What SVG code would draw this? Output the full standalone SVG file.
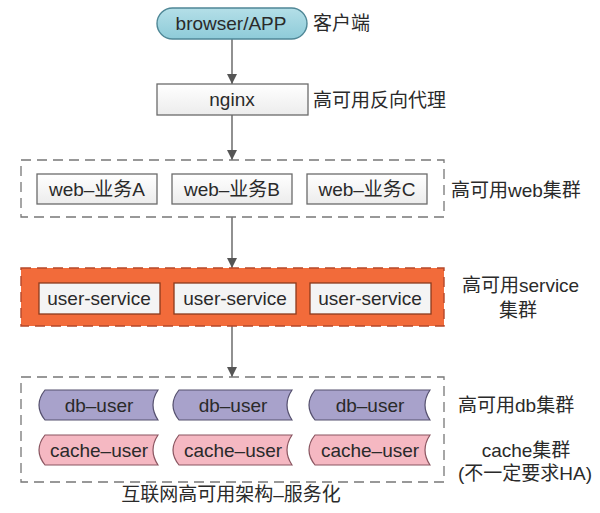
<svg xmlns="http://www.w3.org/2000/svg" width="600" height="513" viewBox="0 0 600 513">
<defs>
<style>
.t{font-family:"Liberation Sans","Noto Sans CJK SC",Arial,sans-serif;font-size:19px;fill:#2a2a2a;}
.c{text-anchor:middle;}
.box{fill:url(#g);stroke:#6b6b6b;stroke-width:1.3;}
.grp{fill:none;stroke:#777;stroke-width:1.3;stroke-dasharray:10 6;}
.svc{fill:#f4f4f4;stroke:#8a3a1c;stroke-width:1.3;}
.db{fill:#a8a2cb;stroke:#55506e;stroke-width:1.2;}
.cache{fill:#f5b8c2;stroke:#8a5560;stroke-width:1.2;}
.edge{stroke:#555;stroke-width:1.3;fill:none;marker-end:url(#arr);}
</style>
<linearGradient id="g" x1="0" y1="0" x2="0" y2="1"><stop offset="0" stop-color="#ffffff"/><stop offset="1" stop-color="#ececec"/></linearGradient>
<linearGradient id="pill" x1="0" y1="0" x2="0" y2="1"><stop offset="0" stop-color="#b4dfe8"/><stop offset="1" stop-color="#8ecbd8"/></linearGradient>
<marker id="arr" viewBox="0 0 10 10" refX="10" refY="5" markerWidth="10" markerHeight="10" markerUnits="userSpaceOnUse" orient="auto"><path d="M0,0 L10,5 L0,10 Z" fill="#555"/></marker>
</defs>
<rect width="600" height="513" fill="#ffffff"/>

<g id="connectors">
<line class="edge" x1="232" y1="39" x2="232" y2="84"/>
<line class="edge" x1="232" y1="115" x2="232" y2="160"/>
<line class="edge" x1="232" y1="217" x2="232" y2="268"/>
<line class="edge" x1="232" y1="326" x2="232" y2="377"/>
</g>

<g id="browser">
<rect x="157" y="8" width="150" height="31" rx="15.5" fill="url(#pill)" stroke="#4f8796" stroke-width="1.4"/>
<text class="t c" x="231" y="30">browser/APP</text>
<text class="t" x="313" y="30">客户端</text>
</g>

<g id="nginx">
<rect class="box" x="157" y="84" width="151" height="31"/>
<text class="t c" x="232" y="106">nginx</text>
<text class="t" x="313" y="107">高可用反向代理</text>
</g>

<g id="web-cluster">
<rect class="grp" x="21" y="160" width="423" height="57"/>
<rect class="box" x="37" y="174" width="120" height="30"/>
<text class="t c" x="97" y="196">web–业务A</text>
<rect class="box" x="172" y="174" width="120" height="30"/>
<text class="t c" x="232" y="196">web–业务B</text>
<rect class="box" x="307" y="174" width="120" height="30"/>
<text class="t c" x="367" y="196">web–业务C</text>
<text class="t" x="451" y="197">高可用web集群</text>
</g>

<g id="service-cluster">
<rect x="21" y="268" width="423" height="58" fill="#f26b3a" stroke="#b5482a" stroke-width="1.4" stroke-dasharray="10 6"/>
<rect class="svc" x="39" y="283" width="121" height="31"/>
<text class="t c" x="99" y="305">user-service</text>
<rect class="svc" x="174" y="283" width="122" height="31"/>
<text class="t c" x="235" y="305">user-service</text>
<rect class="svc" x="310" y="283" width="121" height="31"/>
<text class="t c" x="370" y="305">user-service</text>
<text class="t" x="462" y="292">高可用service</text>
<text class="t c" x="518" y="317">集群</text>
</g>

<g id="data-cluster">
<rect class="grp" x="21" y="377" width="423" height="105"/>
<path class="db" d="M45,390 L158,390 Q148,405 158,420 L45,420 Q33,405 45,390 Z"/>
<text class="t c" x="99" y="412">db–user</text>
<path class="db" d="M179,390 L292,390 Q282,405 292,420 L179,420 Q167,405 179,390 Z"/>
<text class="t c" x="233" y="412">db–user</text>
<path class="db" d="M315,390 L430,390 Q420,405 430,420 L315,420 Q303,405 315,390 Z"/>
<text class="t c" x="370" y="412">db–user</text>
<path class="cache" d="M45,435 L158,435 Q148,450 158,465 L45,465 Q33,450 45,435 Z"/>
<text class="t c" x="99" y="457">cache–user</text>
<path class="cache" d="M179,435 L292,435 Q282,450 292,465 L179,465 Q167,450 179,435 Z"/>
<text class="t c" x="233" y="457">cache–user</text>
<path class="cache" d="M315,435 L430,435 Q420,450 430,465 L315,465 Q303,450 315,435 Z"/>
<text class="t c" x="370" y="457">cache–user</text>
<text class="t" x="458" y="412">高可用db集群</text>
<text class="t c" x="526" y="457">cache集群</text>
<text class="t c" x="525" y="480">(不一定要求HA)</text>
</g>

<g id="caption">
<text class="t c" x="231" y="501">互联网高可用架构–服务化</text>
</g>
</svg>
